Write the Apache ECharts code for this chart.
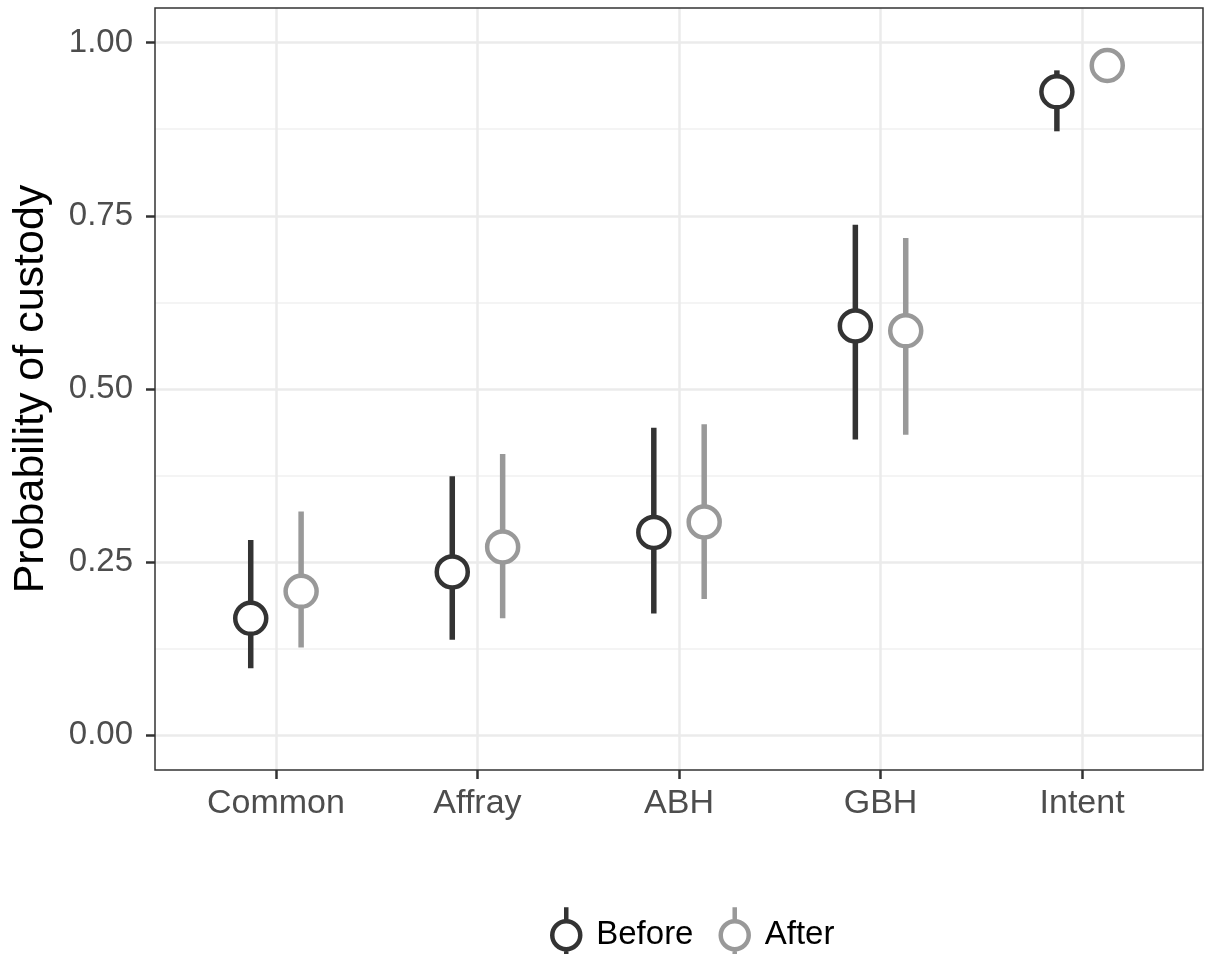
<!DOCTYPE html>
<html><head><meta charset="utf-8">
<script src="https://cdn.jsdelivr.net/npm/echarts@6/dist/echarts.min.js"></script>
<style>html,body{margin:0;padding:0;background:#fff}#c{width:1211px;height:954px}</style>
</head><body><div id="c"></div>
<script>
const categories = ['Common', 'Affray', 'ABH', 'GBH', 'Intent'];
const beforeMean = [0.169, 0.236, 0.293, 0.591, 0.929];
const beforeLo   = [0.097, 0.138, 0.176, 0.427, 0.872];
const beforeHi   = [0.282, 0.374, 0.444, 0.737, 0.960];
const afterMean  = [0.208, 0.272, 0.308, 0.584, 0.967];
const afterLo    = [0.127, 0.169, 0.197, 0.434, 0.950];
const afterHi    = [0.323, 0.406, 0.449, 0.718, 0.982];
const yTicks = [0, 0.25, 0.5, 0.75, 1];
const yMinor = [0.125, 0.375, 0.625, 0.875];

const DODGE = 0.125;
const colBefore = '#333333', colAfter = '#999999';
const font = 'Liberation Sans, Arial, sans-serif';

function barData(mean, lo, hi, off) {
  return mean.map((m, i) => [i + off, lo[i], hi[i]]);
}
function ptData(mean, off) {
  return mean.map((m, i) => [i + off, m]);
}
function errSeries(name, data, color) {
  return {
    type: 'custom', name: name, data: data,
    encode: { x: 0, y: [1, 2] },
    renderItem: function (params, api) {
      const a = api.coord([api.value(0), api.value(1)]);
      const b = api.coord([api.value(0), api.value(2)]);
      return { type: 'line', shape: { x1: a[0], y1: a[1], x2: b[0], y2: b[1] },
        style: { stroke: color, lineWidth: 5.5 } };
    },
    z: 2, silent: true
  };
}
function ptSeries(name, data, color) {
  return {
    type: 'scatter', name: name, data: data, symbol: 'circle', symbolSize: 31,
    itemStyle: { color: '#ffffff', borderColor: color, borderWidth: 4.5, opacity: 1 },
    z: 3, silent: true
  };
}
const iconPath = 'path://M16,0 L16,14 M16,42 L16,56 M2,28 A14,14 0 1,1 30,28 A14,14 0 1,1 2,28 Z';

const chart = echarts.init(document.getElementById('c'), null, { renderer: 'canvas' });
chart.setOption({
  animation: false,
  backgroundColor: '#ffffff',
  grid: { left: 155, right: 8, top: 8, bottom: 184, outerBoundsMode: 'none', containLabel: false,
          show: true, borderColor: '#333333', borderWidth: 1.5, backgroundColor: 'transparent', z: 5 },
  legend: {
    left: 545, top: 900, itemWidth: 28, itemHeight: 56, itemGap: 25,
    textStyle: { fontFamily: font, fontSize: 33, color: '#000000', padding: [0, 0, 0, 11] },
    data: [
      { name: 'Before', icon: iconPath, itemStyle: { color: '#ffffff', borderColor: colBefore, borderWidth: 4.5 } },
      { name: 'After', icon: iconPath, itemStyle: { color: '#ffffff', borderColor: colAfter, borderWidth: 4.5 } }
    ]
  },
  xAxis: [{
    type: 'value', min: -0.6, max: 4.6,
    axisLine: { show: false, onZero: false },
    axisTick: { show: true, inside: false, customValues: [0, 1, 2, 3, 4], length: 9, lineStyle: { color: '#333333', width: 2.5 } },
    axisLabel: { customValues: [0, 1, 2, 3, 4], formatter: v => categories[Math.round(v)], fontFamily: font, fontSize: 34, color: '#4D4D4D', margin: 17 },
    splitLine: { show: true, lineStyle: { color: '#EBEBEB', width: 2.5 } }
  }],
  yAxis: [{
    type: 'value', min: -0.05, max: 1.05,
    name: 'Probability of custody', nameLocation: 'middle', nameGap: 102, nameRotate: 90,
    nameTextStyle: { fontFamily: font, fontSize: 43, color: '#000000' },
    axisLine: { show: false, onZero: false },
    axisTick: { show: true, inside: false, customValues: yTicks, length: 9, lineStyle: { color: '#333333', width: 2.5 } },
    axisLabel: { customValues: yTicks, formatter: v => v.toFixed(2), fontFamily: font, fontSize: 33, color: '#4D4D4D', margin: 22 },
    splitLine: { show: true, lineStyle: { color: '#EBEBEB', width: 2.5 } }
  }, {
    type: 'value', min: -0.05, max: 1.05, position: 'left',
    axisLine: { show: false, onZero: false }, axisTick: { show: false, customValues: yMinor },
    axisLabel: { show: false, customValues: yMinor },
    splitLine: { show: true, lineStyle: { color: '#F0F0F0', width: 1.5 } }
  }],
  series: [
    errSeries('Before', barData(beforeMean, beforeLo, beforeHi, -DODGE), colBefore),
    errSeries('After', barData(afterMean, afterLo, afterHi, DODGE), colAfter),
    ptSeries('Before', ptData(beforeMean, -DODGE), colBefore),
    ptSeries('After', ptData(afterMean, DODGE), colAfter)
  ]
});
</script></body></html>
